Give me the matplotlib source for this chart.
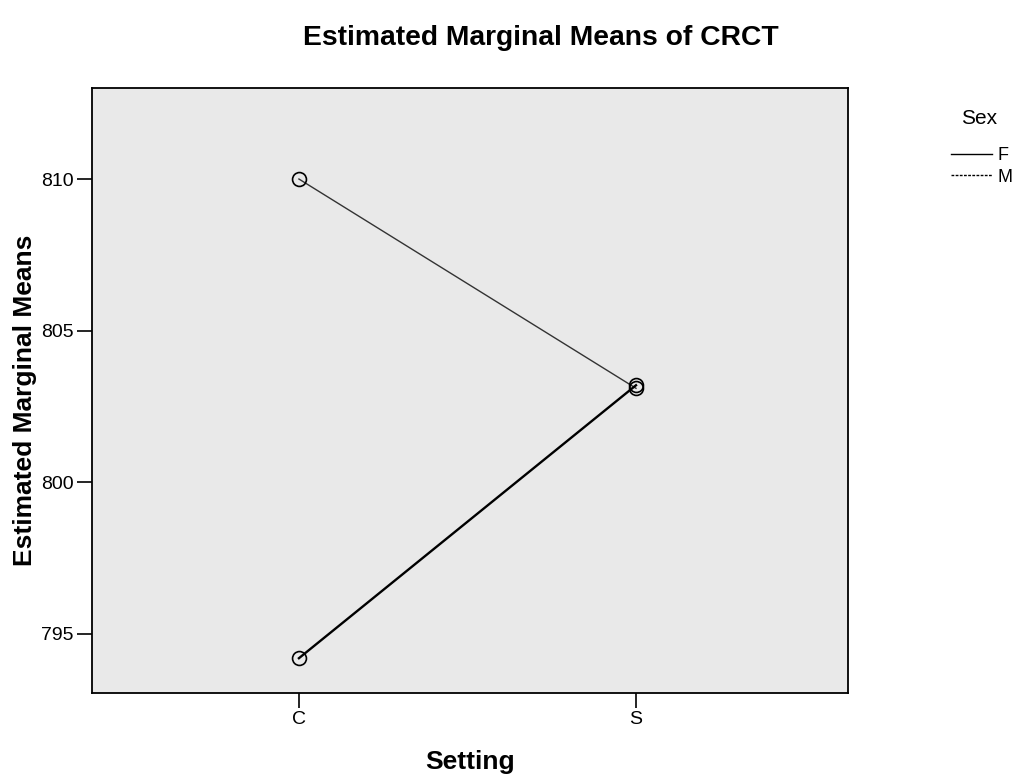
import matplotlib
matplotlib.use('Agg')
import matplotlib.pyplot as plt
from matplotlib.lines import Line2D

plt.rcParams['font.family'] = ['Liberation Sans', 'DejaVu Sans']

# data
settings = ['C', 'S']
mean_f = [810.0, 803.1]
mean_m = [794.2, 803.2]

fig = plt.figure(figsize=(10.14, 7.77), dpi=100)
ax = fig.add_axes([0.0907, 0.108, 0.7456, 0.7787])
ax.set_facecolor('#e9e9e9')

xs = range(len(settings))
ax.plot(xs, mean_f, color='#333333', lw=1.0, marker='o', markersize=10,
        markerfacecolor='none', markeredgecolor='black', markeredgewidth=1.2)
ax.plot(xs, mean_m, color='black', lw=1.7, marker='o', markersize=10,
        markerfacecolor='none', markeredgecolor='black', markeredgewidth=1.2)

ax.set_xlim(-0.614, 1.629)
ax.set_ylim(793.05, 813.0)
ax.set_xticks(list(xs))
ax.set_xticklabels(settings)
ax.set_yticks([795, 800, 805, 810])
ax.tick_params(direction='out', length=11, width=1.2, labelsize=14, pad=2)
for s in ax.spines.values():
    s.set_linewidth(1.3)

ax.set_xlabel('Setting', fontsize=19, fontweight='bold')
ax.set_ylabel('Estimated Marginal Means', fontsize=19, fontweight='bold')
ax.xaxis.set_label_coords(0.5, -0.114)
ax.yaxis.set_label_coords(-0.089, 0.484)
ax.xaxis.label.set_va('center')
ax.yaxis.label.set_va('center')
fig.suptitle('Estimated Marginal Means of CRCT', x=0.533, y=0.968, fontsize=20.3, fontweight='bold')

# legend
fig.text(0.9655, 0.848, 'Sex', ha='center', va='center', fontsize=15)
handles = [Line2D([], [], color='black', lw=1.0),
           Line2D([], [], color='black', lw=1.0, linestyle=(0, (2, 1)))]
leg = fig.legend(handles, ['F', 'M'], loc='upper left',
                 bbox_to_anchor=(0.925, 0.827), frameon=False, fontsize=13,
                 handlelength=2.3, handletextpad=0.3,
                 labelspacing=0.25, borderpad=0.2)

plt.savefig('out.png', dpi=100, facecolor='white')
